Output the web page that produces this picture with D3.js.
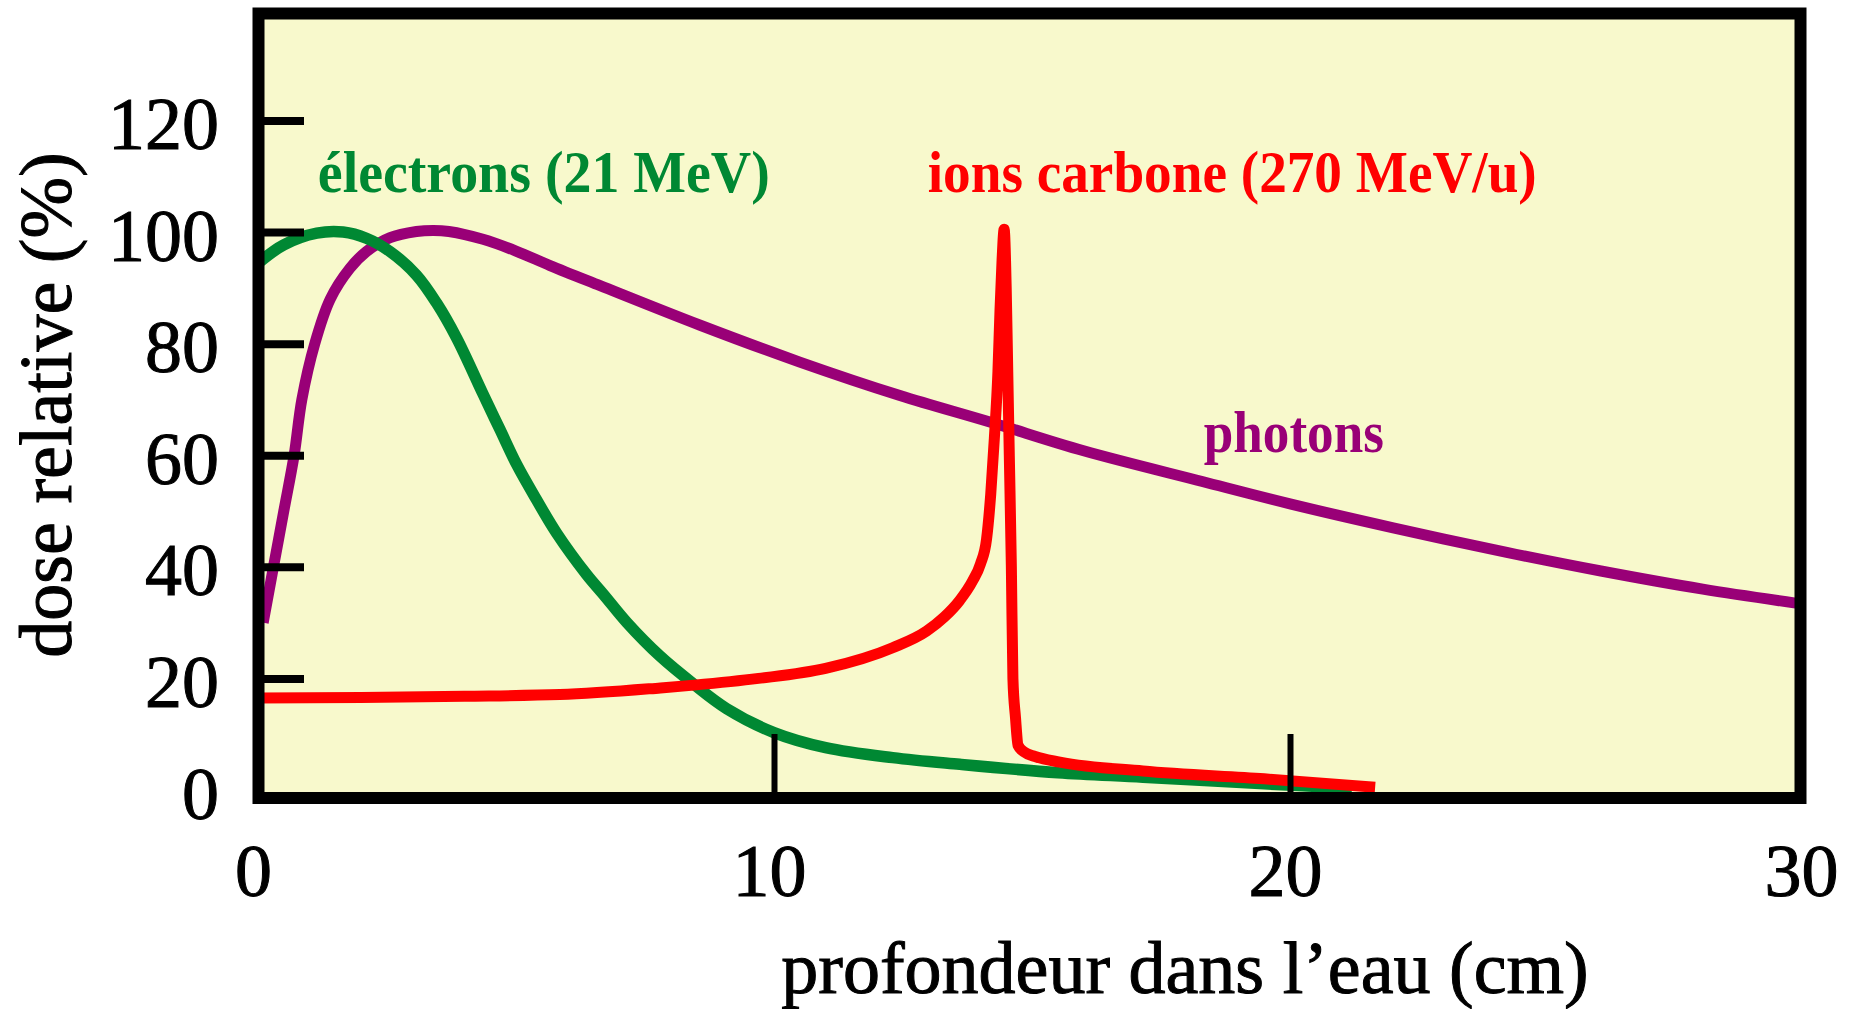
<!DOCTYPE html>
<html>
<head>
<meta charset="utf-8">
<script src="https://cdn.jsdelivr.net/npm/d3@7"></script>
<style>
  body { margin: 0; background: #fff; }
  text { font-family: "Liberation Serif", "Times New Roman", serif; }
</style>
</head>
<body>
<div id="chart"></div>
<script>
// depth in water (cm) / relative dose (%)
var photonDepth = [0.1, 0.3, 0.5, 0.7, 0.85, 1.1, 1.4, 1.78, 2.1, 2.56, 3.07, 3.4, 3.7, 4.36, 5.0, 5.66, 6.63, 8.57, 10.5, 12.44, 14.2, 16, 18.3, 20, 22, 24.2, 26, 28, 29.8];
var photonDose = [30, 40, 50, 60, 70, 80, 88, 93.5, 96.5, 99, 100.1, 100.3, 100.1, 98.7, 96.6, 94, 90.4, 83.3, 76.7, 70.7, 65.9, 60.8, 55.3, 51.3, 47, 42.6, 39.3, 36, 33.5];

var electronDepth = [0, 0.5, 1.14, 1.65, 2.1, 2.56, 3.07, 3.46, 3.85, 4.36, 4.69, 5.01, 5.4, 5.79, 6.37, 6.7, 7.15, 7.79, 8.44, 9.08, 10, 11, 12.3, 13.6, 15.5, 17.15, 19.5, 21.2];
var electronDose = [94.4, 97.7, 99.8, 100, 98.9, 96.5, 92.3, 87.3, 81, 71, 64.6, 58.4, 52, 46, 38.6, 35, 30, 24, 19, 14.6, 10.3, 7.6, 5.8, 4.6, 3.1, 2.3, 1.1, 0.3];

var carbonDepth = [0, 2, 4, 5.85, 7.8, 8.45, 9.7, 11, 12.3, 12.96, 13.3, 13.6, 13.85, 14.0, 14.12, 14.2, 14.27, 14.34, 14.38, 14.42, 14.46, 14.5, 14.53, 14.56, 14.6, 14.63, 14.68, 14.73, 14.85, 15.06, 15.54, 17.15, 19.5, 21.65];
var carbonDose = [16.5, 16.6, 16.8, 17.1, 18.3, 18.8, 20, 21.8, 25.5, 28.5, 31, 34, 37.5, 40.5, 45, 53, 63, 75, 86, 95, 100.5, 90, 75, 60, 40, 20, 13, 8, 6.8, 6.0, 5.0, 3.4, 2.0, 0.5];

var xTicks = [0, 10, 20, 30];
var yTicks = [0, 20, 40, 60, 80, 100, 120];

var labels = [
  { text: "électrons (21 MeV)", x: 1.16, y: 107.1, color: "#008833", len: 452 },
  { text: "ions carbone (270 MeV/u)", x: 12.98, y: 107.1, color: "#ff0000", len: 609 },
  { text: "photons", x: 18.33, y: 60.6, color: "#990077", len: 180 }
];

var WIDTH = 1854, HEIGHT = 1009;
var LEFT = 258.5, TOP = 13.5, RIGHT = 1800.5, BOTTOM = 798;

var svg = d3.select("#chart").append("svg")
  .attr("width", WIDTH)
  .attr("height", HEIGHT);

var x = d3.scaleLinear().domain([0, 30]).range([258, 1806]);
var y = d3.scaleLinear().domain([0, 120]).range([790, 120.5]);

// plot background
svg.append("rect")
  .attr("x", LEFT).attr("y", TOP)
  .attr("width", RIGHT - LEFT).attr("height", BOTTOM - TOP)
  .attr("fill", "#f8f9cc");

function zip(a, b) {
  return a.map(function(v, i) { return [v, b[i]]; });
}

// smooth curves for photons / electrons, monotone for the carbon peak
var smooth = d3.line()
  .x(function(d) { return x(d[0]); })
  .y(function(d) { return y(d[1]); })
  .curve(d3.curveCatmullRom.alpha(0.5));
var mono = d3.line()
  .x(function(d) { return x(d[0]); })
  .y(function(d) { return y(d[1]); })
  .curve(d3.curveMonotoneX);

var series = [
  { pts: zip(photonDepth, photonDose), color: "#990077", w: 11, gen: smooth },
  { pts: zip(electronDepth, electronDose), color: "#008833", w: 11.5, gen: smooth },
  { pts: zip(carbonDepth, carbonDose), color: "#ff0000", w: 11, gen: mono }
];

svg.selectAll("path.curve")
  .data(series)
  .enter().append("path")
  .attr("class", "curve")
  .attr("d", function(d) { return d.gen(d.pts); })
  .attr("fill", "none")
  .attr("stroke", function(d) { return d.color; })
  .attr("stroke-width", function(d) { return d.w; })
  .attr("stroke-linejoin", "round")
  .attr("stroke-linecap", "butt");

// y axis: ticks pointing inside
var yAxis = svg.append("g")
  .attr("transform", "translate(264,0)")
  .call(d3.axisLeft(y).tickValues(yTicks).tickSize(-40).tickPadding(45));
yAxis.select(".domain").remove();
yAxis.selectAll(".tick line")
  .attr("stroke", "#000").attr("stroke-width", 8)
  .attr("display", function(d) { return d == 0 ? "none" : null; });
yAxis.selectAll(".tick text")
  .attr("font-size", 74).attr("fill", "#000")
  .attr("stroke", "#000").attr("stroke-width", 1)
  .attr("dy", "0.38em")
  .style("font-family", "'Liberation Serif', serif");

// x axis
var xAxis = svg.append("g")
  .attr("transform", "translate(0,792)")
  .call(d3.axisBottom(x).tickValues(xTicks).tickSize(-58).tickPadding(51));
xAxis.select(".domain").remove();
xAxis.selectAll(".tick line")
  .attr("stroke", "#000").attr("stroke-width", 6)
  .attr("display", function(d) { return (d == 0 || d == 30) ? "none" : null; });
xAxis.selectAll(".tick text")
  .attr("font-size", 74).attr("fill", "#000")
  .attr("stroke", "#000").attr("stroke-width", 1)
  .attr("x", -5)
  .style("font-family", "'Liberation Serif', serif");

// frame
svg.append("rect")
  .attr("x", LEFT).attr("y", TOP)
  .attr("width", RIGHT - LEFT).attr("height", BOTTOM - TOP)
  .attr("fill", "none")
  .attr("stroke", "#000")
  .attr("stroke-width", 12);

// curve labels
svg.selectAll("text.lbl")
  .data(labels)
  .enter().append("text")
  .attr("class", "lbl")
  .attr("x", function(d) { return x(d.x); })
  .attr("y", function(d) { return y(d.y); })
  .attr("fill", function(d) { return d.color; })
  .attr("font-size", 60)
  .attr("font-weight", "bold")
  .attr("textLength", function(d) { return d.len; })
  .attr("lengthAdjust", "spacingAndGlyphs")
  .text(function(d) { return d.text; });

// axis titles
svg.append("text")
  .attr("x", 1185).attr("y", 993)
  .attr("text-anchor", "middle")
  .attr("font-size", 74)
  .attr("stroke", "#000").attr("stroke-width", 1)
  .text("profondeur dans l’eau (cm)");

svg.append("text")
  .attr("transform", "translate(71,405) rotate(-90)")
  .attr("text-anchor", "middle")
  .attr("font-size", 74)
  .attr("stroke", "#000").attr("stroke-width", 1)
  .text("dose relative (%)");
</script>
</body>
</html>
